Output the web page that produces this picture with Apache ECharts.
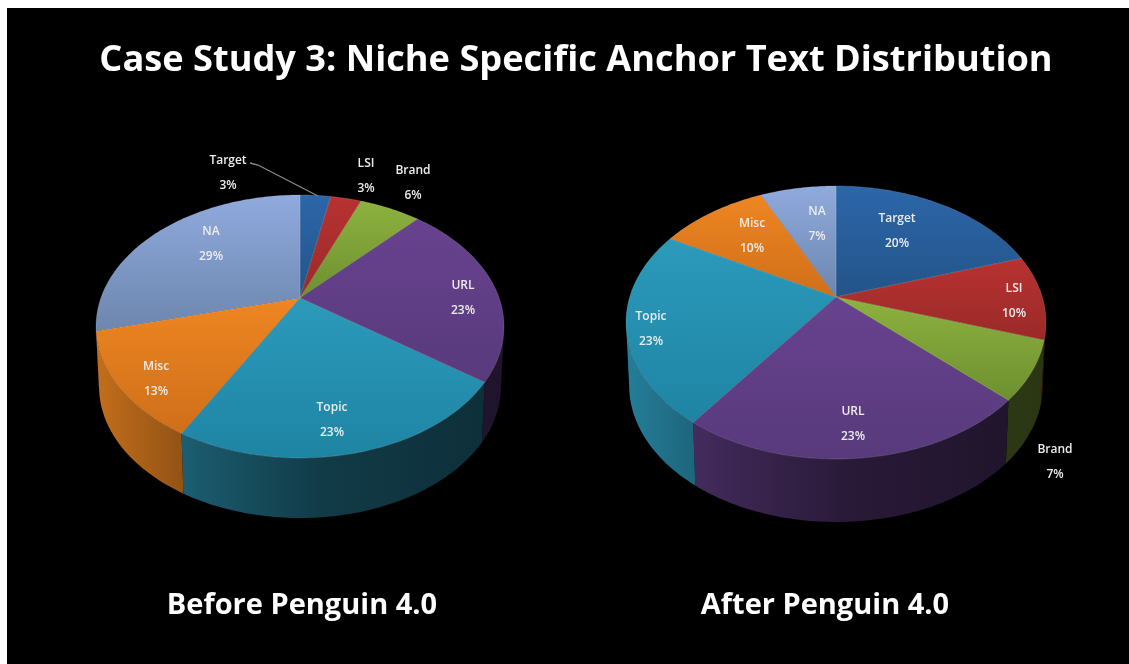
<!DOCTYPE html>
<html><head><meta charset="utf-8">
<style>html,body{margin:0;padding:0;background:#fff}#c{width:1129px;height:664px;filter:blur(0.7px)}</style>
<script src="https://cdn.jsdelivr.net/npm/echarts@6/dist/echarts.min.js"></script>
</head><body><div id="c"></div>
<script>
const categories = ['Target','LSI','Brand','URL','Topic','Misc','NA'];
const beforeValues = [3,3,6,23,23,13,29];
const afterValues = [20,10,7,23,23,10,7];
const chartTitle = 'Case Study 3: Niche Specific Anchor Text Distribution';
const beforeTitle = 'Before Penguin 4.0';
const afterTitle = 'After Penguin 4.0';

const topLight = ['#2c66aa','#b83231','#8db23e','#68428f','#2c9abb','#ee8621','#90aade'];
const topDark  = ['#235488','#992a28','#6e8f30','#583a7c','#1e84a4','#cf6f1a','#6c86ae'];

const beforeLayout = {cx:300, cy:298, up:103, down:160, rx:204, depth:60,
  labels:[[228,173],[366,176],[413,183],[463,298],[332,420],[156,379],[211,244]],
  leader:{index:0, points:[[250,163],[258,165],[318,196]]}};
const afterLayout = {cx:836, cy:297, up:111, down:162, rx:210, depth:63,
  labels:[[897,231],[1014,301],[1055,462],[853,424],[651,329],[752,236],[817,224]]};

function hexMul(hex,f){
  const n=parseInt(hex.slice(1),16);
  const c=[(n>>16)&255,(n>>8)&255,n&255].map(v=>Math.round(v*f));
  return 'rgb('+c.join(',')+')';
}
function projector(L){
  const r=L.down/L.up, k=(r-1)/(r+1), A=L.up*(1+k), B=L.rx*Math.sqrt(1-k*k);
  return {k, at(deg,drop,s){
    const t=deg*Math.PI/180, u=Math.sin(t), v=Math.cos(t), d=1+k*v;
    return [L.cx+B*u/d*s, L.cy-A*v/d+drop];
  }};
}
function arc(P,a,b,drop,s){
  const pts=[], n=Math.max(2,Math.ceil(Math.abs(b-a)));
  for(let i=0;i<=n;i++) pts.push(P.at(a+(b-a)*i/n,drop,s));
  return pts;
}
function renderer(values,L){
  const total=values.reduce((a,b)=>a+b,0), P=projector(L);
  const edge=Math.asin(P.k)*180/Math.PI, wallA=90+edge, wallB=270-edge;
  return function(params,api){
    const i=params.dataIndex, val=api.value(0), start=api.value(1);
    const a=start/total*360, b=(start+val)/total*360;
    const kids=[];
    const wa=Math.max(a,wallA), wb=Math.min(b,wallB);
    if(wb>wa){
      const base=topLight[i];
      kids.push({type:'polygon',
        shape:{points:arc(P,wa,wb,0,1).concat(arc(P,wb,wa,L.depth,0.985))},
        style:{fill:new echarts.graphic.LinearGradient(L.cx-L.rx,0,L.cx+L.rx,0,[
          {offset:0,color:hexMul(base,0.82)},{offset:0.25,color:hexMul(base,0.58)},
          {offset:0.55,color:hexMul(base,0.38)},{offset:1,color:hexMul(base,0.3)}],true),
          stroke:null}});
    }
    kids.push({type:'polygon',
      shape:{points:[[L.cx,L.cy]].concat(arc(P,a,b,0,1))},
      style:{fill:new echarts.graphic.LinearGradient(0,0,0,1,[
        {offset:0,color:topLight[i]},{offset:1,color:topDark[i]}]),
        stroke:'rgba(255,255,255,0.14)',lineWidth:1}});
    if(L.leader && L.leader.index===i){
      kids.push({type:'polyline',z2:5,shape:{points:L.leader.points},
        style:{stroke:'#8a8a8a',lineWidth:1.3,fill:null}});
    }
    const pos=L.labels[i];
    kids.push({type:'text',z2:10,x:pos[0],y:pos[1],
      style:{text:categories[i]+'\n'+val+'%',fill:'#ececec',
        font:'600 12px "Open Sans"',lineHeight:25,align:'center',verticalAlign:'middle'}});
    return {type:'group',children:kids};
  };
}
function rows(values){
  let c=0;
  return values.map((v,i)=>{const r={name:categories[i],value:[v,c]};c+=v;return r;});
}
const chart=echarts.init(document.getElementById('c'),null,{renderer:'canvas'});
const titleFont={color:'#fff',fontFamily:'"Open Sans"',fontWeight:700};
chart.setOption({
  animation:false,
  backgroundColor:'#fff',
  graphic:[{type:'rect',z:-10,silent:true,shape:{x:7,y:8,width:1122,height:656},style:{fill:'#000'}}],
  title:[
    {text:chartTitle,left:571,top:38,textAlign:'center',textStyle:{...titleFont,fontSize:36.2}},
    {text:beforeTitle,left:297,top:586,textAlign:'center',textStyle:{...titleFont,fontSize:29}},
    {text:afterTitle,left:820,top:586,textAlign:'center',textStyle:{...titleFont,fontSize:29}}
  ],
  series:[
    {type:'custom',name:beforeTitle,coordinateSystem:'none',silent:true,clip:false,
     renderItem:renderer(beforeValues,beforeLayout),data:rows(beforeValues)},
    {type:'custom',name:afterTitle,coordinateSystem:'none',silent:true,clip:false,
     renderItem:renderer(afterValues,afterLayout),data:rows(afterValues)}
  ]
});
</script></body></html>
